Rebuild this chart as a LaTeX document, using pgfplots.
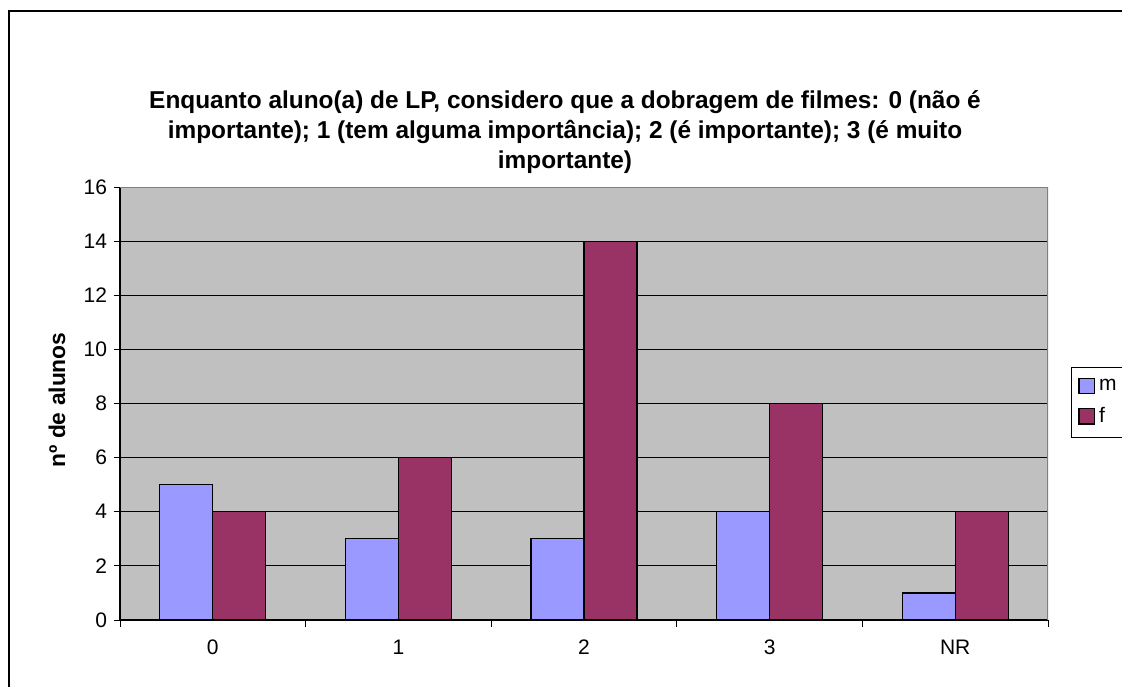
\documentclass[border=0pt]{standalone}
\usepackage{pgfplots}
\pgfplotsset{compat=1.18}
\usepackage{fontspec}
\setmainfont{Liberation Sans}
\definecolor{mcol}{HTML}{9999FF}
\definecolor{fcol}{HTML}{993366}
\definecolor{plotbg}{HTML}{C0C0C0}
\begin{document}
\begin{tikzpicture}
\useasboundingbox (0,0) rectangle (561pt,343pt);
\draw[line width=0.8pt] (4.5pt,-5pt) rectangle (575pt,337.5pt);
\node[font=\bfseries\fontsize{12.2}{15}\selectfont, align=center] at (282.5pt,277pt)
  {Enquanto aluno(a) de LP, considero que a dobragem de filmes: 0 (não é\\
   importante); 1 (tem alguma importância); 2 (é importante); 3 (é muito\\
   importante)};
\node[font=\bfseries\fontsize{11.4}{13}\selectfont, rotate=90] at (28.5pt,143pt) {nº de alunos};
\begin{axis}[at={(60pt,33pt)}, anchor=south west, scale only axis,
  width=464pt, height=216.5pt,
  /pgf/number format/assume math mode=true,
  ybar=0pt, bar width=26.5pt,
  xmin=-0.5, xmax=4.5, ymin=0, ymax=16,
  xtick={0,...,4}, xticklabels={0,1,2,3,NR},
  major x tick style={draw=none},
  minor xtick={-0.5,0.5,1.5,2.5,3.5,4.5},
  minor tick length=3.5pt, major tick length=3pt,
  ytick={0,2,...,16}, tick align=outside,
  ymajorgrids, grid style={black, line width=0.5pt},
  axis background/.style={fill=plotbg},
  axis x line*=bottom, axis y line*=left,
  axis line style={black, line width=0.6pt, -},
  tick style={black, line width=0.5pt},
  ticklabel style={font=\fontsize{10.5}{12}\selectfont},
  x tick label style={yshift=-3.5pt},
  legend style={at={(1.0248,0.503)}, anchor=west, draw=black, fill=white,
    font=\fontsize{10.5}{12}\selectfont, row sep=3pt, inner ysep=4pt, inner xsep=3.5pt,
    nodes={text width=16pt}},
  legend cell align=left,
  legend image code/.code={\draw[#1,draw=black,line width=0.7pt] (0pt,-3.8pt) rectangle (7.6pt,3.8pt);},
]
\addplot[fill=mcol, draw=black, line width=0.6pt] coordinates {(0,5) (1,3) (2,3) (3,4) (4,1)};
\addlegendentry{m}
\addplot[fill=fcol, draw=black, line width=0.6pt] coordinates {(0,4) (1,6) (2,14) (3,8) (4,4)};
\addlegendentry{f}
\draw[gray, line width=0.6pt] (rel axis cs:0,1) -- (rel axis cs:1,1) -- (rel axis cs:1,0);
\end{axis}
\end{tikzpicture}
\end{document}
